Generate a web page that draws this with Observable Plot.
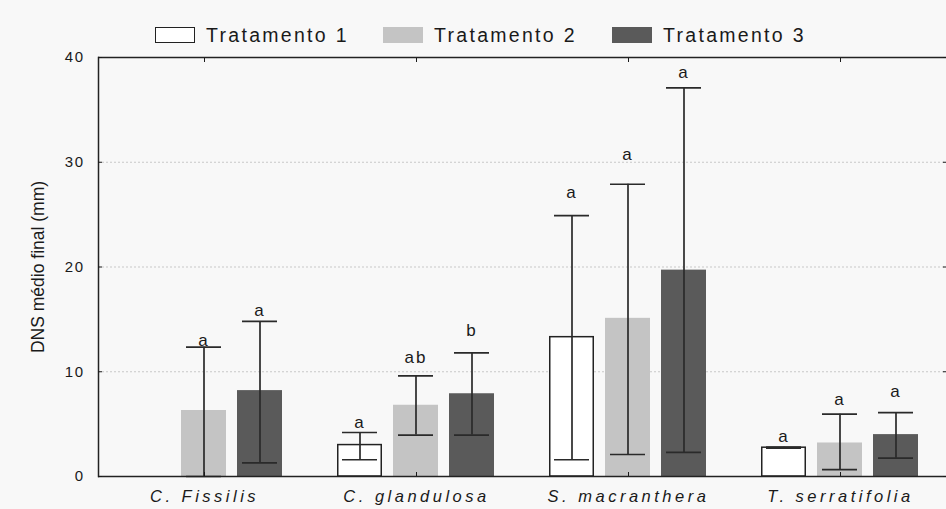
<!DOCTYPE html>
<html>
<head>
<meta charset="utf-8">
<script src="https://cdn.jsdelivr.net/npm/d3@7"></script>
<script src="https://cdn.jsdelivr.net/npm/@observablehq/plot@0.6"></script>
<style>
  html, body { margin: 0; padding: 0; background: #f8f8f8; }
  body { width: 946px; height: 509px; overflow: hidden; font-family: "Liberation Sans", Arial, sans-serif; }
  #legend { position: relative; height: 46px; }
  .item { position: absolute; top: 26px; display: flex; align-items: center; }
  .sw { width: 40px; height: 16px; box-sizing: border-box; margin-right: 11px; }
  .lab { font-size: 19.5px; letter-spacing: 2.3px; color: #1a1a1a; line-height: 18px; }
  #chart svg g[aria-label="fx-axis tick label"] text { letter-spacing: 3.5px; font-size: 16.5px; }
  #chart svg g[aria-label="y-axis tick label"] text { letter-spacing: 1.5px; }
  #chart svg g[aria-label="y-axis label"] text { font-size: 17.5px; }
  #chart svg g[aria-label="text"] text { letter-spacing: 2px; }
</style>
</head>
<body>
<div id="legend"></div>
<div id="chart"></div>
<script>
const species = ["C. Fissilis", "C. glandulosa", "S. macranthera", "T. serratifolia"];
const treatments = ["Tratamento 1", "Tratamento 2", "Tratamento 3"];
const colors = ["#ffffff", "#c4c4c4", "#5a5a5a"];
const yTicks = [0, 10, 20, 30, 40];

// Means (mm)
const t1Mean = [null, 3.0, 13.3, 2.75];
const t2Mean = [6.3, 6.8, 15.1, 3.2];
const t3Mean = [8.2, 7.9, 19.7, 4.0];
// Error bar ends
const t1Lo = [null, 1.6, 1.6, 2.7];
const t1Hi = [null, 4.2, 24.9, 2.8];
const t2Lo = [0, 3.95, 2.1, 0.65];
const t2Hi = [12.35, 9.6, 27.9, 5.95];
const t3Lo = [1.3, 3.95, 2.3, 1.75];
const t3Hi = [14.8, 11.8, 37.1, 6.1];
// Significance letters and their heights (mm)
const t1Letter = [null, "a", "a", "a"];
const t2Letter = ["a", "ab", "a", "a"];
const t3Letter = ["a", "b", "a", "a"];
const t1LetterY = [null, 5.15, 27.1, 3.8];
const t2LetterY = [13.0, 11.36, 30.7, 7.35];
const t3LetterY = [15.85, 13.9, 38.6, 8.1];

const means = [t1Mean, t2Mean, t3Mean];
const los = [t1Lo, t2Lo, t3Lo];
const his = [t1Hi, t2Hi, t3Hi];
const letters = [t1Letter, t2Letter, t3Letter];
const letterYs = [t1LetterY, t2LetterY, t3LetterY];

const rows = [];
species.forEach((s, i) => {
  treatments.forEach((t, j) => {
    if (means[j][i] == null) return;
    rows.push({species: s, treatment: t, mean: means[j][i], lo: los[j][i], hi: his[j][i],
               letter: letters[j][i], letterY: letterYs[j][i]});
  });
});
const t1Rows = rows.filter(d => d.treatment === treatments[0]);
const otherRows = rows.filter(d => d.treatment !== treatments[0]);

// Legend
const legend = document.getElementById("legend");
const lefts = [155, 383, 612];
treatments.forEach((t, j) => {
  const it = document.createElement("div");
  it.className = "item";
  it.style.left = lefts[j] + "px";
  const sw = document.createElement("div");
  sw.className = "sw";
  sw.style.background = colors[j];
  sw.style.border = j === 0 ? "1.5px solid #222" : "none";
  const lab = document.createElement("span");
  lab.className = "lab";
  lab.textContent = t;
  it.appendChild(sw); it.appendChild(lab);
  legend.appendChild(it);
});

const errStroke = "#2a2a2a";
const chart = Plot.plot({
  width: 946,
  height: 463,
  marginTop: 11,
  marginBottom: 33,
  marginLeft: 98,
  marginRight: 0,
  style: {background: "transparent", fontFamily: "'Liberation Sans', Arial, sans-serif", color: "#1a1a1a"},
  fx: {domain: species, padding: 0, axis: null},
  x: {domain: treatments, paddingInner: 0.19, paddingOuter: 0.455, axis: null},
  y: {domain: [0, 40], axis: null},
  color: {domain: treatments, range: colors},
  marks: [
    Plot.ruleY([10, 20, 30], {stroke: "#c8c8c8", strokeDasharray: "2,2", strokeWidth: 1}),
    Plot.barY(t1Rows, {fx: "species", x: "treatment", y: "mean", fill: colors[0], stroke: "#222", strokeWidth: 1.5, insetLeft: 0.75, insetRight: 0.75}),
    Plot.barY(otherRows, {fx: "species", x: "treatment", y: "mean", fill: "treatment"}),
    Plot.ruleX(rows, {fx: "species", x: "treatment", y1: "lo", y2: "hi", stroke: errStroke, strokeWidth: 1.7}),
    Plot.tickY(rows, {fx: "species", x: "treatment", y: "lo", stroke: errStroke, strokeWidth: 1.7, insetLeft: 5, insetRight: 5}),
    Plot.tickY(rows, {fx: "species", x: "treatment", y: "hi", stroke: errStroke, strokeWidth: 1.7, insetLeft: 5, insetRight: 5}),
    Plot.text(rows, {fx: "species", x: "treatment", y: "letterY", text: "letter", fontSize: 17, fill: "#1a1a1a"}),
    Plot.ruleY([0, 40], {stroke: "#222", strokeWidth: 1.5}),
    Plot.frame({anchor: "left", facetAnchor: "left", stroke: "#222", strokeWidth: 1.5}),
    Plot.axisY({ticks: yTicks, tickSize: -4, tickPadding: 18, fontSize: 15, label: "DNS médio final (mm)",
                labelAnchor: "center", labelOffset: 67, labelArrow: "none"}),
    Plot.axisY({anchor: "right", ticks: yTicks, tickSize: -4, tickFormat: () => "", label: null}),
    Plot.axisFx({anchor: "bottom", tickSize: -4, tickPadding: 18, fontSize: 16.5, fontStyle: "italic", label: null}),
    Plot.axisFx({anchor: "top", tickSize: -4, tickFormat: () => "", label: null})
  ]
});
document.getElementById("chart").appendChild(chart);
</script>
</body>
</html>
